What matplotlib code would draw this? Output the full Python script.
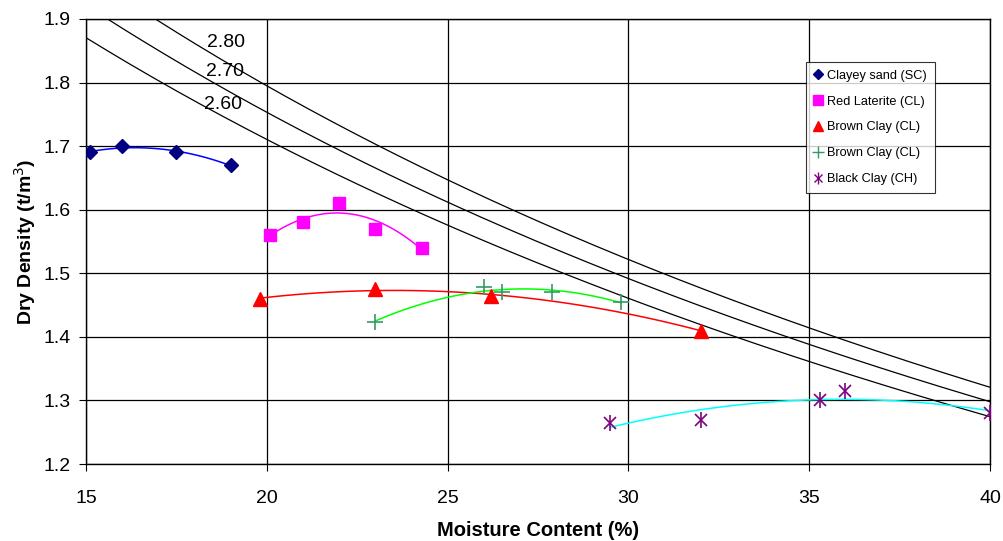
import numpy as np
import matplotlib
matplotlib.use('Agg')
import matplotlib.pyplot as plt
from matplotlib.lines import Line2D

plt.rcParams['font.family'] = ['Liberation Sans', 'DejaVu Sans']

# compaction test data (moisture %, dry density t/m3)
sc_w = [15.1, 16.0, 17.5, 19.0]
sc_d = [1.69, 1.70, 1.69, 1.67]
rl_w = [20.1, 21.0, 22.0, 23.0, 24.3]
rl_d = [1.56, 1.58, 1.61, 1.57, 1.54]
bc1_w = [19.8, 23.0, 26.2, 32.0]
bc1_d = [1.46, 1.475, 1.465, 1.41]
bc2_w = [23.0, 26.0, 26.5, 27.9, 29.8]
bc2_d = [1.424, 1.479, 1.470, 1.470, 1.455]
ch_w = [29.5, 32.0, 35.3, 36.0, 40.0]
ch_d = [1.265, 1.27, 1.30, 1.315, 1.28]

# zero air void lines for these specific gravities
gs_values = [2.60, 2.70, 2.80]

fig = plt.figure(figsize=(10.04, 5.41), dpi=100)
ax = fig.add_axes([0.0857, 0.1423, 0.9003, 0.8226])

w_zav = np.linspace(15, 40, 200)
for gs in gs_values:
    ax.plot(w_zav, gs / (1 + gs * w_zav / 100), color='black', lw=0.9, zorder=2)
ax.text(18.34, 1.863, "2.80", fontsize=14, va='center')
ax.text(18.31, 1.817, "2.70", fontsize=14, va='center')
ax.text(18.26, 1.766, "2.60", fontsize=14, va='center')


def trend(w, d, color):
    c = np.polyfit(w, d, 2)
    xs = np.linspace(min(w), max(w), 100)
    ax.plot(xs, np.polyval(c, xs), color=color, lw=1.1, zorder=3)


trend(sc_w, sc_d, '#0000FF')
trend(rl_w, rl_d, '#FF00FF')
trend(bc1_w, bc1_d, '#FF0000')
trend(bc2_w, bc2_d, '#00FF00')
trend(ch_w, ch_d, '#00FFFF')

ax.plot(sc_w, sc_d, 'D', color='#000080', ms=7, ls='none', zorder=4)
ax.plot(rl_w, rl_d, 's', color='#FF00FF', ms=9, ls='none', zorder=4)
ax.plot(bc1_w, bc1_d, '^', color='#FF0000', ms=10, ls='none', zorder=4)
ax.plot(bc2_w, bc2_d, '+', color='#339966', ms=11, mew=1.2, ls='none', zorder=4)
ax.plot(ch_w, ch_d, 'x', color='#800080', ms=9, mew=1.2, ls='none', zorder=4)
ax.plot(ch_w, ch_d, '|', color='#800080', ms=12, mew=1.2, ls='none', zorder=4)

ax.set_xlim(15, 40)
ax.set_ylim(1.2, 1.9)
ax.set_xticks(np.arange(15, 41, 5))
ax.set_yticks(np.round(np.arange(1.2, 1.91, 0.1), 1))
ax.set_yticklabels([f"{v:.1f}" for v in np.arange(1.2, 1.91, 0.1)])
ax.grid(True, color='black', lw=0.9)
ax.set_axisbelow(True)
ax.tick_params(labelsize=14, direction='out', length=5)
ax.tick_params(axis='x', pad=14)
ax.tick_params(axis='y', pad=6)
for s in ax.spines.values():
    s.set_linewidth(1.0)

ax.set_xlabel("Moisture Content (%)", fontsize=14.5, fontweight='bold', labelpad=10)
ax.set_ylabel("Dry Density (t/m$^3$)", fontsize=14, fontweight='bold', labelpad=4)

handles = [
    Line2D([], [], marker='D', color='#000080', ls='none', ms=5),
    Line2D([], [], marker='s', color='#FF00FF', ls='none', ms=7),
    Line2D([], [], marker='^', color='#FF0000', ls='none', ms=7),
    Line2D([], [], marker='+', color='#339966', ls='none', ms=8, mew=1),
    (Line2D([], [], marker='x', color='#800080', ls='none', ms=6, mew=1),
     Line2D([], [], marker='|', color='#800080', ls='none', ms=8, mew=1)),
]
labels = ["Clayey sand (SC)", "Red Laterite (CL)", "Brown Clay (CL)",
          "Brown Clay (CL)", "Black Clay (CH)"]
leg = ax.legend(handles, labels, loc='upper left', bbox_to_anchor=(0.796, 0.903),
                fontsize=9.2, frameon=True, fancybox=False, edgecolor='black',
                handlelength=0.8, handletextpad=0.3, labelspacing=1.08,
                borderpad=0.6, borderaxespad=0)
leg.get_frame().set_linewidth(0.8)

fig.savefig("out.png", dpi=100)
